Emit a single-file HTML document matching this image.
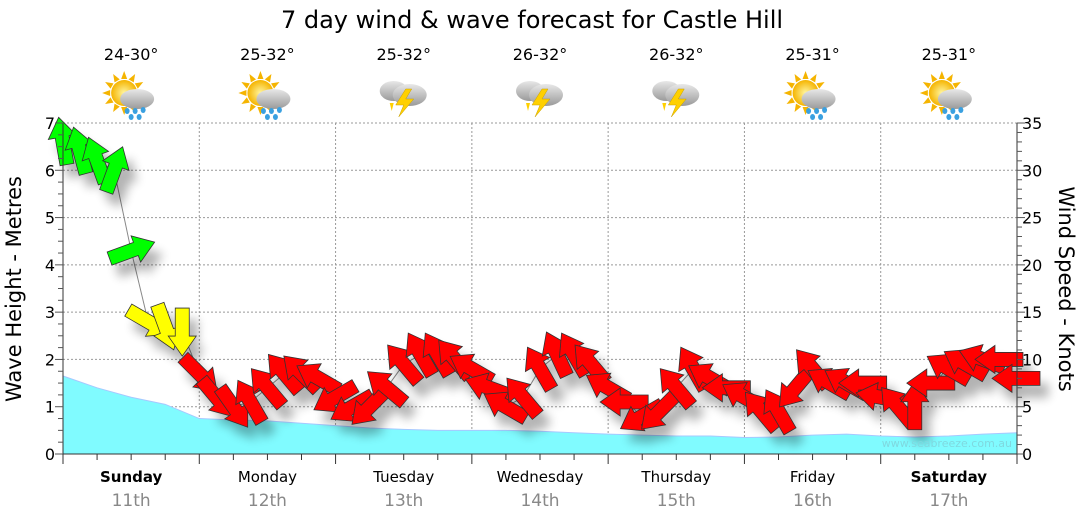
<!DOCTYPE html>
<html><head><meta charset="utf-8">
<style>
body{margin:0;background:#fff;}
svg{display:block;font-family:"DejaVu Sans","Liberation Sans",sans-serif;}
</style></head>
<body>
<svg id="chart" width="1080" height="522" viewBox="0 0 1080 522" xmlns="http://www.w3.org/2000/svg">
<defs>
<filter id="sh" x="-50%" y="-50%" width="200%" height="200%"><feGaussianBlur in="SourceAlpha" stdDeviation="5"/><feOffset dx="8" dy="12"/><feComponentTransfer><feFuncA type="linear" slope="0.3"/></feComponentTransfer><feMerge><feMergeNode/><feMergeNode in="SourceGraphic"/></feMerge></filter>
<radialGradient id="sun" cx="0.5" cy="0.5" r="0.5"><stop offset="0" stop-color="#fff6a0"/><stop offset="1" stop-color="#f5b400"/></radialGradient>
<linearGradient id="cloud" x1="0" y1="0" x2="0" y2="1"><stop offset="0" stop-color="#e8e8e8"/><stop offset="1" stop-color="#9a9a9a"/></linearGradient>
</defs>
<text x="532" y="28" text-anchor="middle" font-size="24" fill="#000">7 day wind &amp; wave forecast for Castle Hill</text>
<g id="grid"></g>
<g id="wave"></g>
<g id="wind"></g>
<g id="axes"></g>
<g id="topg"></g>
<text x="1012" y="447" text-anchor="end" font-size="11" fill="#7fd8df">www.seabreeze.com.au</text>
<text transform="translate(21,289) rotate(-90)" text-anchor="middle" font-size="21" fill="#000">Wave Height - Metres</text>
<text transform="translate(1059,289) rotate(90)" text-anchor="middle" font-size="21" fill="#000">Wind Speed - Knots</text>
</svg>
<script>
const days=["Sunday","Monday","Tuesday","Wednesday","Thursday","Friday","Saturday"];
const dates=["11th","12th","13th","14th","15th","16th","17th"];
const boldDays=[true,false,false,false,false,false,true];
const temps=["24-30°","25-32°","25-32°","26-32°","26-32°","25-31°","25-31°"];
const icons=["sunrain","sunrain","storm","storm","storm","sunrain","sunrain"];
const waveTicks=[0,1,2,3,4,5,6,7];
const windTicks=[0,5,10,15,20,25,30,35];
const waveHeights=[1.65,1.4,1.2,1.05,0.75,0.72,0.7,0.65,0.6,0.55,0.52,0.5,0.5,0.5,0.48,0.45,0.42,0.4,0.38,0.38,0.35,0.36,0.4,0.42,0.38,0.36,0.38,0.42,0.45];
const windSpeeds=[33,32,31,30,21.5,14,13.5,13,8.5,6,5,5.5,7,8.5,8.5,8,6,5,5,7,9.5,10.5,10.5,10,9,7,5,6,9,10.5,10.5,9.5,7,5.5,4,4.5,7,9,8,7,6,4.5,4.5,7,9,7.5,7.5,7.5,6,5,5,7.5,9,9.5,10,10,8];
const windDirs=[350,345,340,20,70,120,160,180,135,140,145,330,320,320,315,300,240,240,225,310,320,330,330,320,300,290,300,320,330,335,330,320,300,270,240,225,320,330,300,270,300,320,330,220,320,300,300,270,280,320,0,270,300,300,290,270,270];

const NS="http://www.w3.org/2000/svg";
const X0=63,X1=1017,Y0=454,Y1=123,HOURS=168;
const xH=h=>X0+(X1-X0)*h/HOURS;
const yW=m=>Y0-(Y0-Y1)*m/7;
const yK=k=>Y0-(Y0-Y1)*k/35;
function mk(tag,attrs,parent,txt){const e=document.createElementNS(NS,tag);for(const k in attrs)e.setAttribute(k,attrs[k]);if(txt!==undefined)e.textContent=txt;parent.appendChild(e);return e;}
const grid=document.getElementById('grid'),axes=document.getElementById('axes'),wave=document.getElementById('wave'),wind=document.getElementById('wind'),topG=document.getElementById('topg');

waveTicks.forEach(t=>{if(t>0){const l=mk('line',{x1:X0,x2:X1,y1:yW(t),y2:yW(t),stroke:'#999','stroke-dasharray':'2,2'},grid);}
 const tx=mk('text',{x:X0-8,y:yW(t)+6,'text-anchor':'end','font-size':16},axes,String(t));});
windTicks.forEach(t=>{const tx=mk('text',{x:X1+5,y:yK(t)+6,'font-size':16},axes,String(t));});
for(let d=1;d<7;d++){const l=mk('line',{x1:xH(d*24),x2:xH(d*24),y1:Y1,y2:Y0,stroke:'#999','stroke-dasharray':'2,2'},grid);}
let p=`M${X0},${Y0}`;waveHeights.forEach((v,i)=>{p+=` L${xH(i*6)},${yW(v)}`;});p+=` L${X1},${Y0} Z`;
const wa=mk('path',{d:p,fill:'#80fbff',stroke:'#a6c8ff','stroke-width':1},wave);
mk('line',{x1:X0,x2:X0,y1:Y1,y2:Y0,stroke:'#333'},axes);
mk('line',{x1:X1,x2:X1,y1:Y1,y2:Y0,stroke:'#333'},axes);
mk('line',{x1:X0,x2:X1,y1:Y0,y2:Y0,stroke:'#333'},axes);
for(let m=0;m<=28;m++){const w=m%4==0?8:5;mk('line',{x1:X0-w,x2:X0,y1:yW(m/4),y2:yW(m/4),stroke:'#555'},axes);}
for(let k=0;k<=35;k++){const w=k%5==0?8:5;mk('line',{x1:X1,x2:X1+w,y1:yK(k),y2:yK(k),stroke:'#555'},axes);}
for(let h=0;h<=168;h+=6){mk('line',{x1:xH(h),x2:xH(h),y1:Y0,y2:Y0+(h%24==0?10:6),stroke:'#333'},axes);}
days.forEach((d,i)=>{const cx=xH(i*24+12);
 const t=mk('text',{x:cx,y:482,'text-anchor':'middle','font-size':15,'font-weight':boldDays[i]?'bold':'normal'},axes,d);
 const t2=mk('text',{x:cx,y:506,'text-anchor':'middle','font-size':17,fill:'#888'},axes,dates[i]);
 const t3=mk('text',{x:cx,y:60,'text-anchor':'middle','font-size':16},topG,temps[i]);
 const g=mk('g',{transform:`translate(${cx},97)`},topG);
 if(icons[i]=='sunrain'){
  for(let a=0;a<360;a+=30)mk('polygon',{points:'-3,-14 3,-14 0,-22',fill:'#f5b400',transform:`translate(-7,-4) rotate(${a})`},g);
  mk('circle',{cx:-7,cy:-4,r:13,fill:'url(#sun)'},g);
  mk('ellipse',{cx:6,cy:2,rx:17,ry:10,fill:'url(#cloud)'},g);
  [[-4,14],[4,14],[12,13],[0,20],[8,20]].forEach(q=>mk('ellipse',{cx:q[0],cy:q[1],rx:2.5,ry:3,fill:'#3aa0e0'},g));
 }else{
  mk('ellipse',{cx:-10,cy:-6,rx:14,ry:10,fill:'url(#cloud)'},g);
  mk('ellipse',{cx:6,cy:-2,rx:17,ry:11,fill:'url(#cloud)'},g);
  mk('polygon',{points:'2,-8 -8,8 0,8 -5,20 10,2 2,2 8,-8',fill:'#ffd000',stroke:'#c9a000','stroke-width':0.5},g);
  mk('polygon',{points:'-14,6 -10,6 -12,14',fill:'#ffd000'},g);
 }
});
const step=HOURS/(windSpeeds.length-1);
let lp='';windSpeeds.forEach((v,i)=>{lp+=(i?' L':'M')+xH(i*step)+','+yK(v);});
const wl=mk('path',{d:lp,fill:'none',stroke:'#888','stroke-width':1},wind);
const ag=mk('g',{filter:'url(#sh)'},wind);
windSpeeds.forEach((v,i)=>{const col=v>=20?'#00ff00':(v>=12?'#ffff00':'#ff0000');
 const a=mk('polygon',{points:'-7,23 7,23 7,-5 14,-5 0,-25 -14,-5 -7,-5',fill:col,stroke:'#333','stroke-width':0.8,transform:`translate(${xH(i*step)},${yK(v)}) rotate(${windDirs[i]})`},ag);
 
 
});
</script>
</body></html>
